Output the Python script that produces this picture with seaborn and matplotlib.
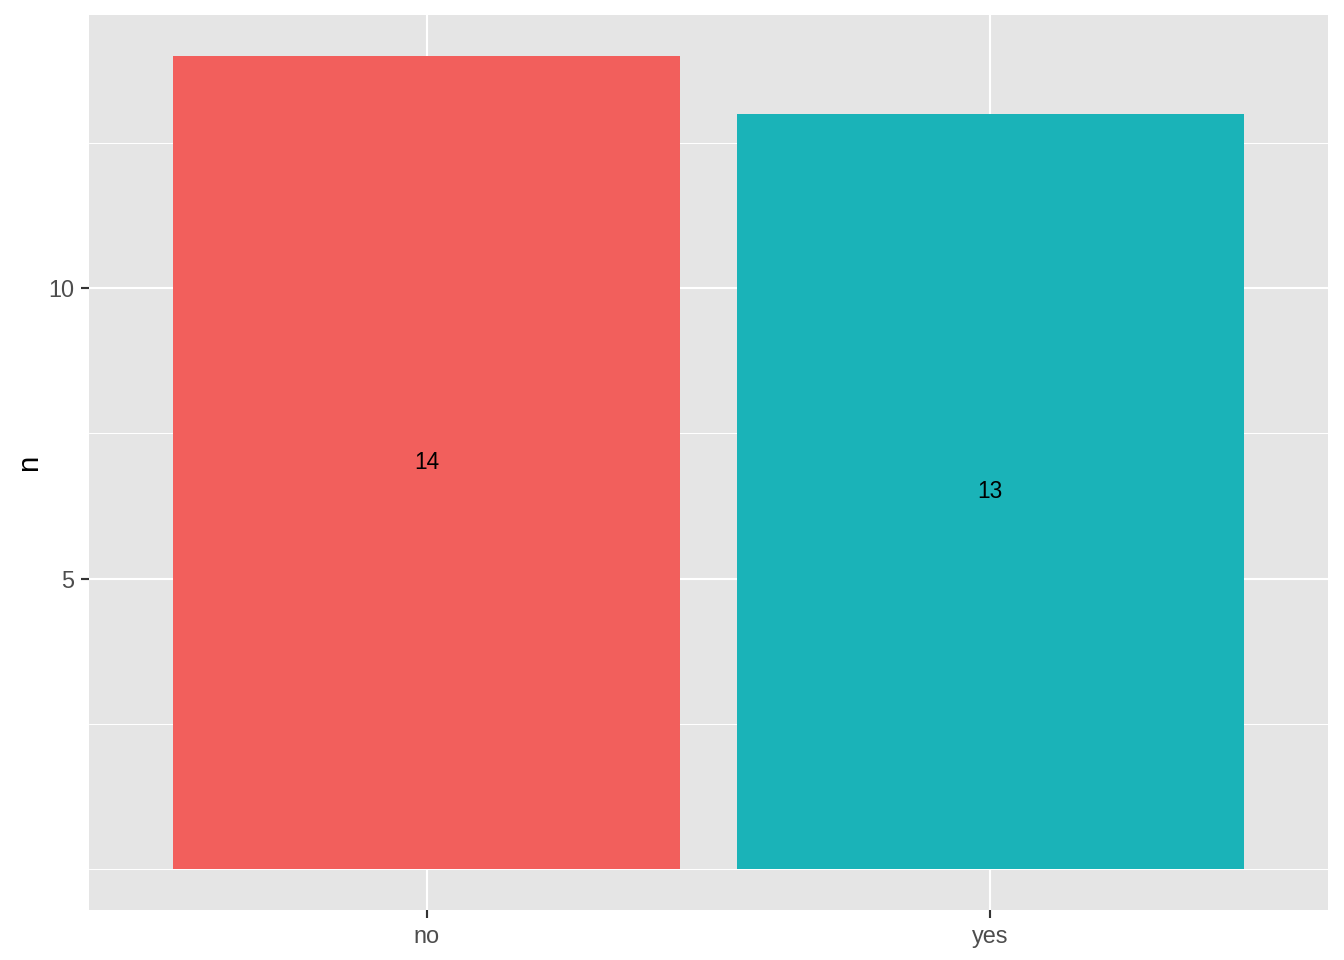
import numpy as np
import pandas as pd
import matplotlib
matplotlib.use("Agg")
import matplotlib.pyplot as plt
import seaborn as sns

# data
answers = ["no", "yes"]
counts = [14, 13]
bar_colors = ["#F25F5C", "#1AB3B8"]

df = pd.DataFrame({"answer": answers, "n": counts})

sns.set_style("white")
plt.rcParams["font.family"] = ["Liberation Sans", "DejaVu Sans"]

fig = plt.figure(figsize=(7, 5), dpi=192)
ax = fig.add_axes([89 / 1344, 1 - 910 / 960, (1328 - 89) / 1344, (910 - 15) / 960])
ax.set_facecolor("#E5E5E5")

sns.barplot(data=df, x="answer", y="n", hue="answer", palette=bar_colors,
            width=0.9, legend=False, saturation=1, linewidth=0, ax=ax, zorder=3)

# labels in the middle of each bar
for i, v in enumerate(counts):
    ax.text(i, v / 2, str(v), ha="center", va="center", fontsize=8.5, color="black", zorder=4)

ax.set_xlim(-0.6, 1.6)
ax.set_ylim(-0.7, 14.7)

# grid like ggplot
ax.set_yticks([5, 10])
ax.set_yticks([0, 2.5, 7.5, 12.5], minor=True)
ax.grid(True, which="major", color="white", linewidth=0.8, zorder=0)
ax.grid(True, which="minor", axis="y", color="white", linewidth=0.4, zorder=0)
ax.set_axisbelow(True)

for s in ax.spines.values():
    s.set_visible(False)

ax.tick_params(axis="both", which="major", length=3, width=0.8, color="#333333",
               labelsize=8.8, labelcolor="#4D4D4D", pad=2.5, left=True, bottom=True)
ax.tick_params(axis="both", which="minor", length=0)

ax.set_xlabel("")
ax.set_ylabel("n", fontsize=11, color="black", labelpad=2)

fig.savefig("out.png", dpi=192)
